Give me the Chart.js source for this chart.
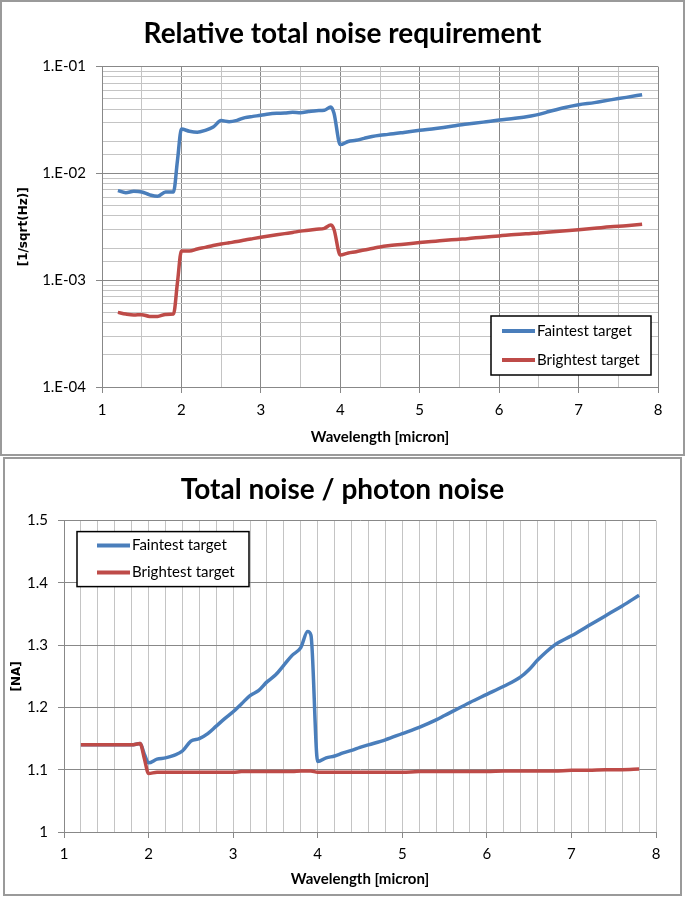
<!DOCTYPE html>
<html>
<head>
<meta charset="utf-8">
<script src="https://cdn.jsdelivr.net/npm/chart.js@4"></script>
<style>
  body { margin: 0; background: #fff; width: 685px; height: 897px; position: relative; overflow: hidden; }
  .frame { position: absolute; border: 2px solid #9a9a9a; box-sizing: border-box; }
  #topFrame { left: 0; top: 0; width: 685px; height: 456px; }
  #botFrame { left: 3px; top: 457px; width: 679px; height: 439px; }
  canvas { position: absolute; left: 0; }
  #topChart { top: 0; }
  #botChart { top: 457px; }
</style>
</head>
<body>
<div class="frame" id="topFrame"></div>
<div class="frame" id="botFrame"></div>
<canvas id="topChart" width="685" height="456" style="width:685px;height:456px"></canvas>
<canvas id="botChart" width="685" height="440" style="width:685px;height:440px"></canvas>
<script>
// wavelength samples [micron]
const wavelength = [1.2, 1.3, 1.4, 1.5, 1.6, 1.7, 1.8, 1.9, 1.95, 2.0,
  2.1, 2.2, 2.3, 2.4, 2.5, 2.6, 2.7, 2.8, 2.9, 3.0,
  3.1, 3.2, 3.3, 3.4, 3.5, 3.6, 3.7, 3.8, 3.88, 3.92,
  4.0, 4.1, 4.2, 4.3, 4.4, 4.5, 4.6, 4.8, 5.0, 5.2,
  5.4, 5.5, 5.6, 5.8, 6.0, 6.2, 6.4, 6.5, 6.6, 6.8,
  7.0, 7.2, 7.4, 7.6, 7.8];

// relative total noise requirement [1/sqrt(Hz)]
const faintestNoise = [0.0069, 0.0066, 0.0068, 0.0067, 0.0063, 0.0061, 0.0067, 0.0067, 0.0132, 0.026,
  0.0248, 0.0243, 0.0253, 0.0272, 0.0312, 0.0305, 0.0314, 0.0333, 0.0342, 0.035,
  0.036, 0.0365, 0.0367, 0.0373, 0.037, 0.0379, 0.0387, 0.039, 0.0418, 0.0368,
  0.0186, 0.0199, 0.0204, 0.0213, 0.0222, 0.0228, 0.0232, 0.0242, 0.0253, 0.0263,
  0.0276, 0.0284, 0.029, 0.0302, 0.0316, 0.0328, 0.0345, 0.0357, 0.0375, 0.041,
  0.044, 0.046, 0.0488, 0.0515, 0.0546];
const brightestNoise = [0.000500, 0.000482, 0.000472, 0.000476, 0.000458, 0.000458, 0.000478, 0.000482, 0.00095, 0.00188,
  0.00188, 0.00196, 0.00203, 0.00211, 0.00218, 0.00224, 0.0023, 0.00238, 0.00245, 0.00252,
  0.00259, 0.00266, 0.00273, 0.0028, 0.00288, 0.00294, 0.003, 0.00306, 0.00328, 0.003,
  0.00172, 0.0018, 0.00185, 0.00192, 0.00198, 0.00205, 0.0021, 0.00217, 0.00225, 0.00232,
  0.00239, 0.00242, 0.00245, 0.00253, 0.0026, 0.00268, 0.00274, 0.00277, 0.00281, 0.00289,
  0.00297, 0.00306, 0.00316, 0.00324, 0.00334];

// total noise / photon noise [NA]
const faintestRatio = [1.14, 1.14, 1.14, 1.14, 1.14, 1.14, 1.14, 1.142, 1.125, 1.111,
  1.117, 1.119, 1.123, 1.13, 1.146, 1.15, 1.158, 1.17, 1.182, 1.193,
  1.206, 1.219, 1.227, 1.241, 1.252, 1.268, 1.284, 1.296, 1.322, 1.316,
  1.113, 1.119, 1.122, 1.127, 1.131, 1.136, 1.14, 1.148, 1.158, 1.168,
  1.18, 1.187, 1.194, 1.208, 1.221, 1.234, 1.249, 1.261, 1.276, 1.3,
  1.315, 1.331, 1.347, 1.363, 1.38];
const brightestRatio = [1.14, 1.14, 1.14, 1.14, 1.14, 1.14, 1.14, 1.142, 1.118, 1.094,
  1.096, 1.096, 1.096, 1.096, 1.096, 1.096, 1.096, 1.096, 1.096, 1.096,
  1.097, 1.097, 1.097, 1.097, 1.097, 1.097, 1.097, 1.098, 1.098, 1.098,
  1.096, 1.096, 1.096, 1.096, 1.096, 1.096, 1.096, 1.096, 1.096, 1.097,
  1.097, 1.097, 1.097, 1.097, 1.097, 1.098, 1.098, 1.098, 1.098, 1.098,
  1.099, 1.099, 1.1, 1.1, 1.101];

const seriesLabels = ['Faintest target', 'Brightest target'];
const noiseTickLabels = ['1.E-04', '1.E-03', '1.E-02', '1.E-01'];

const BLUE = '#4a7ebb';
const RED = '#be4b48';
const MAJOR = '#888888';
const MINOR = '#c4c4c4';
const FONT = 'Lato';

const isInt = v => Math.abs(v - Math.round(v)) < 1e-6;
const isDecade = v => isInt(Math.log10(v));
const pts = arr => wavelength.map((w, i) => ({ x: w, y: arr[i] }));

// legend box drawn inside the plot area, like the spreadsheet one
const boxLegend = {
  id: 'boxLegend',
  afterDatasetsDraw(chart, args, o) {
    const { ctx, chartArea } = chart;
    const x = o.right != null ? chartArea.right - o.right - o.width : chartArea.left + o.left;
    const y = o.bottom != null ? chartArea.bottom - o.bottom - o.height : chartArea.top + o.top;
    ctx.save();
    ctx.fillStyle = '#fff';
    ctx.fillRect(x, y, o.width, o.height);
    ctx.strokeStyle = '#000';
    ctx.lineWidth = 1.5;
    ctx.strokeRect(x, y, o.width, o.height);
    ctx.font = '15px ' + FONT;
    ctx.textBaseline = 'middle';
    chart.data.datasets.forEach((ds, i) => {
      const ly = y + o.rowTop + i * o.rowGap;
      ctx.strokeStyle = ds.borderColor;
      ctx.lineWidth = 4;
      ctx.beginPath();
      ctx.moveTo(x + o.sampleX, ly);
      ctx.lineTo(x + o.sampleX + 33, ly);
      ctx.stroke();
      ctx.fillStyle = '#000';
      ctx.fillText(ds.label, x + o.sampleX + 35, ly);
    });
    ctx.restore();
  }
};

function lineSet(label, arr, color, order) {
  return {
    label: label,
    data: pts(arr),
    borderColor: color,
    backgroundColor: color,
    borderWidth: 3.5,
    pointRadius: 0,
    cubicInterpolationMode: 'monotone',
    fill: false,
    order: order
  };
}

function xAxis(step, majorGridOnInt, height, tickPad, titlePad) {
  return {
    type: 'linear',
    min: 1,
    max: 8,
    afterFit: s => { s.height = height; },
    border: { color: MAJOR, width: 1 },
    grid: {
      color: c => (majorGridOnInt && isInt(c.tick.value)) ? MAJOR : MINOR,
      tickColor: c => isInt(c.tick.value) ? MAJOR : 'rgba(0,0,0,0)',
      tickLength: 6
    },
    ticks: {
      stepSize: step,
      autoSkip: false,
      maxRotation: 0,
      padding: tickPad,
      color: '#000',
      font: { family: FONT, size: 15 },
      callback: v => isInt(v) ? String(Math.round(v)) : ''
    },
    title: {
      display: true,
      text: 'Wavelength [micron]',
      color: '#000',
      font: { family: FONT, size: 15, weight: 'bold' },
      padding: { top: 0, bottom: titlePad }
    }
  };
}

// empty right-hand axis that only reserves the margin, so the title stays centred on the page
function spacerAxis(width) {
  return {
    position: 'right',
    afterFit: s => { s.width = width; },
    grid: { display: false },
    border: { display: false },
    ticks: { display: false }
  };
}

Chart.defaults.animation = false;

new Chart(document.getElementById('topChart'), {
  type: 'line',
  data: {
    datasets: [
      lineSet(seriesLabels[0], faintestNoise, BLUE, 0),
      lineSet(seriesLabels[1], brightestNoise, RED, 1)
    ]
  },
  options: {
    responsive: false,
    layout: { padding: 0 },
    plugins: {
      legend: { display: false },
      tooltip: { enabled: false },
      title: {
        display: true,
        text: 'Relative total noise requirement',
        color: '#000',
        font: { family: FONT, size: 28, weight: 'bold' },
        padding: { top: 17, bottom: 16 }
      },
      boxLegend: { right: 7, bottom: 12, width: 160, height: 59, rowTop: 15, rowGap: 29, sampleX: 11 }
    },
    scales: {
      x: xAxis(0.5, true, 69, 8, 10),
      y: {
        type: 'logarithmic',
        min: 1e-4,
        max: 1e-1,
        afterFit: s => { s.width = 102; },
        border: { color: MAJOR, width: 1 },
        grid: {
          color: c => isDecade(c.tick.value) ? MAJOR : MINOR,
          tickColor: c => isDecade(c.tick.value) ? MAJOR : 'rgba(0,0,0,0)',
          tickLength: 6
        },
        ticks: {
          autoSkip: false,
          padding: 10,
          color: '#000',
          font: { family: FONT, size: 15 },
          callback: v => isDecade(v) ? noiseTickLabels[Math.round(Math.log10(v)) + 4] : ''
        },
        title: {
          display: true,
          text: '[1/sqrt(Hz)]',
          color: '#000',
          font: { family: 'DejaVu Sans', size: 12, weight: 'bold' },
          padding: { top: 17, bottom: 0 }
        }
      },
      spacer: spacerAxis(27)
    }
  },
  plugins: [boxLegend]
});

new Chart(document.getElementById('botChart'), {
  type: 'line',
  data: {
    datasets: [
      lineSet(seriesLabels[0], faintestRatio, BLUE, 1),
      lineSet(seriesLabels[1], brightestRatio, RED, 0)
    ]
  },
  options: {
    responsive: false,
    layout: { padding: 0 },
    plugins: {
      legend: { display: false },
      tooltip: { enabled: false },
      title: {
        display: true,
        text: 'Total noise / photon noise',
        color: '#000',
        font: { family: FONT, size: 28, weight: 'bold' },
        padding: { top: 16, bottom: 14 }
      },
      boxLegend: { left: 13, top: 11, width: 172, height: 55, rowTop: 14, rowGap: 27, sampleX: 20 }
    },
    scales: {
      x: xAxis(0.2, false, 65, 7, 9),
      y: {
        type: 'linear',
        min: 1,
        max: 1.5,
        afterFit: s => { s.width = 64; },
        border: { color: MAJOR, width: 1 },
        grid: { color: MAJOR, tickColor: MAJOR, tickLength: 6 },
        ticks: {
          stepSize: 0.1,
          padding: 10,
          color: '#000',
          font: { family: FONT, size: 15 },
          callback: v => String(Math.round(v * 10) / 10)
        },
        title: {
          display: true,
          text: '[NA]',
          color: '#000',
          font: { family: 'DejaVu Sans', size: 12, weight: 'bold' },
          padding: { top: 10, bottom: 0 }
        }
      },
      spacer: spacerAxis(29)
    }
  },
  plugins: [boxLegend]
});
</script>
</body>
</html>
